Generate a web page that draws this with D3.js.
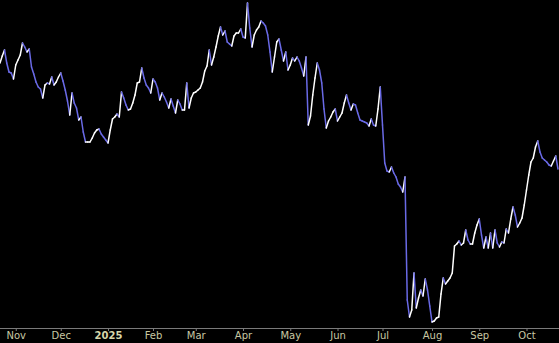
<!DOCTYPE html>
<html lang="en">
<head>
    <meta charset="UTF-8">
    <title>Price line</title>
    <script src="https://d3js.org/d3.v7.min.js"></script>
    <style>
        html, body {
            margin: 0;
            padding: 0;
            background: #000;
        }
        svg {
            display: block;
        }
        .axis text {
            font-family: "DejaVu Sans", sans-serif;
            font-size: 10px;
            fill: #c8c8a4;
        }
        .axis text.year {
            font-weight: bold;
            fill: #d6d6aa;
        }
        .axis path, .axis line {
            stroke: #7a7a7a;
        }
    </style>
</head>
<body>
<svg id="chart"></svg>

<script>
    // Daily closes, one per trading day
    const closes = [
        267, 274, 280, 267, 258, 257, 251, 265, 270, 275,
        287, 283, 278, 281, 263, 256, 248, 243, 241, 232,
        245, 247, 246, 253, 245, 248, 253, 257, 249, 240,
        229, 215, 237, 227, 222, 210, 213, 198, 188, 188,
        188, 192, 197, 200, 201, 196, 193, 190, 187, 200,
        211, 213, 216, 213, 238, 232, 225, 220, 221, 227,
        235, 247, 248, 262, 252, 245, 242, 237, 251, 248,
        242, 230, 237, 233, 228, 222, 231, 224, 217, 230,
        226, 220, 220, 247, 222, 232, 237, 238, 240, 242,
        248, 259, 264, 280, 265, 273, 283, 294, 303, 295,
        299, 288, 286, 284, 294, 297, 297, 301, 293, 292,
        327, 302, 283, 295, 300, 303, 309, 307, 304, 295,
        278, 258, 273, 288, 291, 280, 269, 278, 260, 265,
        272, 269, 273, 269, 262, 254, 273, 205, 214, 235,
        252, 267, 260, 247, 221, 202, 209, 213, 218, 221,
        209, 213, 217, 227, 235, 227, 220, 226, 225, 217,
        210, 209, 208, 207, 204, 211, 205, 204, 221, 243,
        205, 167, 159, 158, 163, 157, 153, 146, 143, 138,
        153, 30, 13, 20, 57, 22, 32, 40, 34, 51,
        40, 24, 8, 9, 12, 13, 36, 52, 46, 49,
        52, 57, 84, 86, 89, 85, 87, 100, 90, 86,
        86, 97, 105, 111, 95, 82, 93, 82, 97, 82,
        100, 87, 83, 88, 87, 101, 97, 111, 123, 115,
        103, 107, 112, 125, 140, 155, 168, 172, 183, 189,
        178, 172, 170, 168, 165, 164, 169, 174, 161
    ];

    const firstDay = "2024-10-23";
    const holidays = ["2024-11-28", "2024-12-25", "2025-01-01", "2025-01-09",
        "2025-01-20", "2025-02-17", "2025-04-18", "2025-05-26",
        "2025-06-19", "2025-07-04", "2025-09-01"];

    const svgWidth = 559;
    const svgHeight = 343;
    const axisY = 328;

    const parse = d3.timeParse("%Y-%m-%d");
    const fmt = d3.timeFormat("%Y-%m-%d");

    // Trading calendar: weekdays without market holidays
    const dates = [];
    let day = parse(firstDay);
    while (dates.length < closes.length) {
        const wd = day.getDay();
        if (wd !== 0 && wd !== 6 && !holidays.includes(fmt(day))) dates.push(day);
        day = d3.timeDay.offset(day, 1);
    }

    // First trading day of each month gets a tick
    const tickIdx = dates.map((d, i) => i)
        .filter(i => i > 0 && dates[i].getMonth() !== dates[i - 1].getMonth());

    const svg = d3.select("#chart")
        .attr("width", svgWidth)
        .attr("height", svgHeight);

    const x = d3.scaleLinear()
        .domain([0, closes.length - 1])
        .range([0, 558]);

    const y = d3.scaleLinear()
        .domain(d3.extent(closes))
        .range([322, 3]);

    // Axis
    const axis = svg.append("g")
        .attr("class", "axis")
        .attr("transform", "translate(0," + axisY + ")")
        .call(d3.axisBottom(x)
            .tickValues(tickIdx)
            .tickSize(3)
            .tickSizeOuter(0)
            .tickPadding(1)
            .tickFormat(i => dates[i].getMonth() === 0 ? d3.timeFormat("%Y")(dates[i]) : d3.timeFormat("%b")(dates[i])));

    axis.select(".domain").attr("d", "M0,0.5H" + svgWidth);
    axis.selectAll(".tick text")
        .classed("year", i => dates[i].getMonth() === 0);

    // Line segments coloured by direction: up white, down blue
    const segs = d3.pairs(closes.map((v, i) => ({ i, v })));

    svg.append("g")
        .selectAll("line")
        .data(segs)
        .enter().append("line")
        .attr("x1", d => x(d[0].i))
        .attr("y1", d => y(d[0].v))
        .attr("x2", d => x(d[1].i))
        .attr("y2", d => y(d[1].v))
        .attr("stroke", d => d[1].v >= d[0].v ? "#ffffff" : "#6a6ae6")
        .attr("stroke-width", 1.5)
        .attr("stroke-linecap", "round");
</script>

</body>
</html>
